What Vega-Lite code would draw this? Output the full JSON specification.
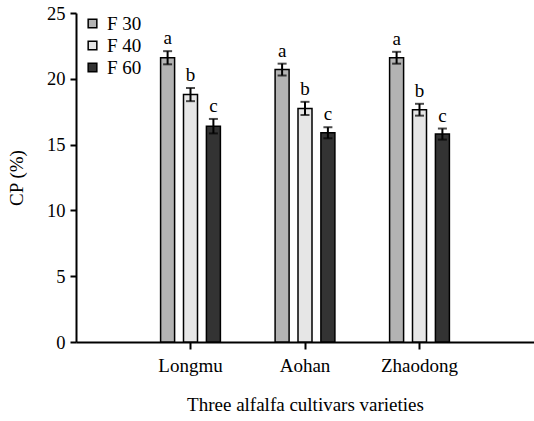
{
  "$schema": "https://vega.github.io/schema/vega-lite/v6.json",
  "width": 458,
  "height": 329,
  "autosize": {"type": "none"},
  "padding": {"left": 76, "top": 13, "right": 0, "bottom": 79},
  "background": "white",
  "config": {
    "view": {"stroke": null},
    "font": "Liberation Serif",
    "axis": {"labelFont": "Liberation Serif", "titleFont": "Liberation Serif", "labelFontSize": 19, "titleFontSize": 19, "titleFontWeight": "normal", "labelColor": "black", "titleColor": "black", "domainColor": "black", "tickColor": "black", "domainWidth": 2, "tickWidth": 2, "grid": false},
    "legend": {"labelFont": "Liberation Serif", "labelFontSize": 19, "labelColor": "black"}
  },
  "data": {"values": [
    {"cultivar": "Longmu", "group": "F 30", "value": 21.6, "err": 0.5, "letter": "a"},
    {"cultivar": "Longmu", "group": "F 40", "value": 18.8, "err": 0.5, "letter": "b"},
    {"cultivar": "Longmu", "group": "F 60", "value": 16.4, "err": 0.55, "letter": "c"},
    {"cultivar": "Aohan", "group": "F 30", "value": 20.7, "err": 0.45, "letter": "a"},
    {"cultivar": "Aohan", "group": "F 40", "value": 17.75, "err": 0.5, "letter": "b"},
    {"cultivar": "Aohan", "group": "F 60", "value": 15.9, "err": 0.42, "letter": "c"},
    {"cultivar": "Zhaodong", "group": "F 30", "value": 21.6, "err": 0.45, "letter": "a"},
    {"cultivar": "Zhaodong", "group": "F 40", "value": 17.65, "err": 0.45, "letter": "b"},
    {"cultivar": "Zhaodong", "group": "F 60", "value": 15.8, "err": 0.42, "letter": "c"}
  ]},
  "transform": [
    {"calculate": "datum.value + datum.err", "as": "hi"},
    {"calculate": "datum.value - datum.err", "as": "lo"}
  ],
  "encoding": {
    "x": {"field": "cultivar", "type": "nominal", "sort": ["Longmu", "Aohan", "Zhaodong"],
      "scale": {"paddingInner": 0, "paddingOuter": 0.5},
      "axis": {"labelAngle": 0, "title": "Three alfalfa cultivars varieties", "tickSize": 7, "labelPadding": 7, "titlePadding": 20}},
    "xOffset": {"field": "group", "type": "nominal", "sort": ["F 30", "F 40", "F 60"], "scale": {"paddingInner": 0, "paddingOuter": 1}}
  },
  "layer": [
    {
      "mark": {"type": "bar", "size": 14, "stroke": "black", "strokeWidth": 1.5},
      "encoding": {
        "y": {"field": "value", "type": "quantitative", "scale": {"domain": [0, 25], "nice": false},
          "axis": {"values": [0, 5, 10, 15, 20, 25], "title": "CP (%)", "tickSize": 6, "labelPadding": 5, "labelFont": "Liberation Serif", "labelFontSize": 18.5, "titlePadding": 20}},
        "fill": {"field": "group", "type": "nominal",
          "scale": {"domain": ["F 30", "F 40", "F 60"], "range": ["#b3b3b3", "#e6e6e6", "#333333"]},
          "legend": {"title": null, "orient": "none", "legendX": 7, "legendY": 1, "labelFont": "Liberation Serif", "symbolType": "square", "symbolSize": 75, "symbolStrokeColor": "black", "symbolStrokeWidth": 1.5, "rowPadding": 2, "labelOffset": 5}}
      }
    },
    {
      "mark": {"type": "rule", "color": "black", "strokeWidth": 2},
      "encoding": {"y": {"field": "lo", "type": "quantitative"}, "y2": {"field": "hi"}}
    },
    {
      "mark": {"type": "tick", "color": "black", "thickness": 2, "size": 9},
      "encoding": {"y": {"field": "lo", "type": "quantitative"}}
    },
    {
      "mark": {"type": "tick", "color": "black", "thickness": 2, "size": 9},
      "encoding": {"y": {"field": "hi", "type": "quantitative"}}
    },
    {
      "mark": {"type": "text", "fontSize": 19, "dy": -13, "color": "black", "font": "Liberation Serif"},
      "encoding": {"y": {"field": "hi", "type": "quantitative"}, "text": {"field": "letter"}}
    }
  ]
}
